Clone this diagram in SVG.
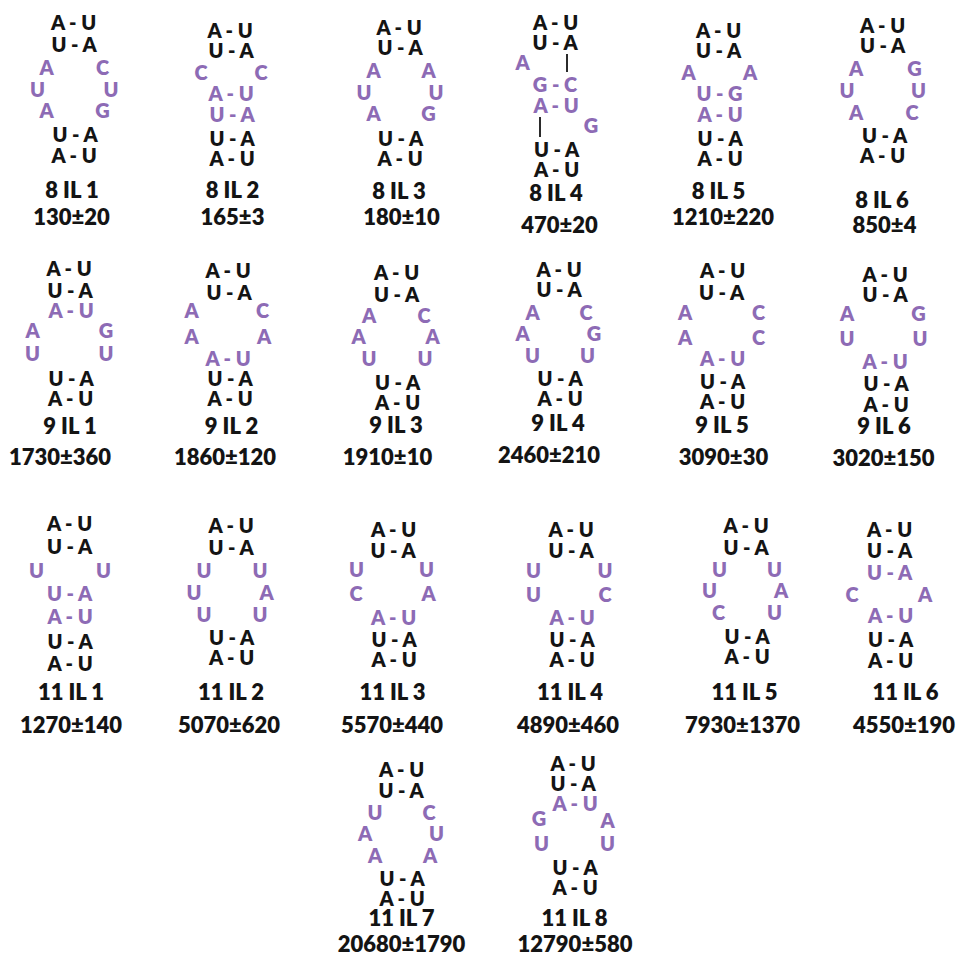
<svg xmlns="http://www.w3.org/2000/svg" width="956" height="957" viewBox="0 0 956 957">
<style>
text{font-family:Lato,"Open Sans","Liberation Sans",sans-serif;font-weight:800;text-anchor:middle}
.k{font-size:20px;fill:#141414}
.p{font-size:20px;fill:#8d6bb5}
.l{font-size:22px;fill:#141414}
.bond{stroke:#141414;stroke-width:1.8}
</style>
<rect width="956" height="957" fill="#ffffff"/>

<g id="n8IL1">
<text class="k" x="73.5" y="30">A - U</text>
<text class="k" x="74" y="51.5">U - A</text>
<text class="p" x="46.5" y="75">A</text><text class="p" x="102.5" y="75">C</text>
<text class="p" x="37.5" y="97">U</text><text class="p" x="111" y="97">U</text>
<text class="p" x="46.5" y="118">A</text><text class="p" x="102.5" y="118">G</text>
<text class="k" x="75" y="142">U - A</text>
<text class="k" x="74" y="163">A - U</text>
<text class="l" x="72" y="198">8 IL 1</text>
<text class="l" x="71.5" y="225">130±20</text>
</g>

<g id="n8IL2">
<text class="k" x="230" y="38">A - U</text>
<text class="k" x="231" y="58">U - A</text>
<text class="p" x="201" y="80">C</text><text class="p" x="261" y="80">C</text>
<text class="p" x="231" y="101">A - U</text>
<text class="p" x="232" y="122">U - A</text>
<text class="k" x="232" y="146">U - A</text>
<text class="k" x="232" y="166">A - U</text>
<text class="l" x="232.5" y="198">8 IL 2</text>
<text class="l" x="232.5" y="225">165±3</text>
</g>

<g id="n8IL3">
<text class="k" x="399" y="35">A - U</text>
<text class="k" x="400" y="55">U - A</text>
<text class="p" x="373.5" y="78">A</text><text class="p" x="428.5" y="78">A</text>
<text class="p" x="364" y="100">U</text><text class="p" x="436" y="100">U</text>
<text class="p" x="373.5" y="121">A</text><text class="p" x="428.5" y="121">G</text>
<text class="k" x="400.5" y="146">U - A</text>
<text class="k" x="400" y="166">A - U</text>
<text class="l" x="399" y="199">8 IL 3</text>
<text class="l" x="401.5" y="225">180±10</text>
</g>

<g id="n8IL4">
<text class="k" x="555.5" y="30">A - U</text>
<text class="k" x="555" y="50">U - A</text>
<line class="bond" x1="567" y1="54" x2="567" y2="72"/>
<text class="p" x="522.5" y="70">A</text>
<text class="p" x="555" y="92">G - C</text>
<text class="p" x="556" y="113">A - U</text>
<line class="bond" x1="540" y1="117" x2="540" y2="137"/>
<text class="p" x="591" y="133">G</text>
<text class="k" x="556.5" y="157">U - A</text>
<text class="k" x="556.5" y="177">A - U</text>
<text class="l" x="556" y="201">8 IL 4</text>
<text class="l" x="559.5" y="233">470±20</text>
</g>

<g id="n8IL5">
<text class="k" x="718.5" y="38">A - U</text>
<text class="k" x="718.5" y="58">U - A</text>
<text class="p" x="688.5" y="80">A</text><text class="p" x="750" y="80">A</text>
<text class="p" x="719.5" y="101">U - G</text>
<text class="p" x="720" y="122">A - U</text>
<text class="k" x="720" y="146">U - A</text>
<text class="k" x="720" y="166">A - U</text>
<text class="l" x="718.5" y="199">8 IL 5</text>
<text class="l" x="723" y="225">1210±220</text>
</g>

<g id="n8IL6">
<text class="k" x="882.5" y="33">A - U</text>
<text class="k" x="882.5" y="53">U - A</text>
<text class="p" x="856" y="76">A</text><text class="p" x="914.5" y="76">G</text>
<text class="p" x="847" y="98">U</text><text class="p" x="918.5" y="98">U</text>
<text class="p" x="856" y="120">A</text><text class="p" x="912" y="120">C</text>
<text class="k" x="884.5" y="143">U - A</text>
<text class="k" x="882.5" y="163">A - U</text>
<text class="l" x="882" y="208">8 IL 6</text>
<text class="l" x="884.5" y="233">850±4</text>
</g>

<g id="n9IL1">
<text class="k" x="69" y="276">A - U</text>
<text class="k" x="70" y="298">U - A</text>
<text class="p" x="71" y="318">A - U</text>
<text class="p" x="32.5" y="338">A</text><text class="p" x="106" y="338">G</text>
<text class="p" x="32.5" y="361">U</text><text class="p" x="106" y="361">U</text>
<text class="k" x="71" y="386">U - A</text>
<text class="k" x="70.5" y="406">A - U</text>
<text class="l" x="70" y="434">9 IL 1</text>
<text class="l" x="60" y="465">1730±360</text>
</g>

<g id="n9IL2">
<text class="k" x="228" y="278">A - U</text>
<text class="k" x="229" y="300">U - A</text>
<text class="p" x="191.5" y="318">A</text><text class="p" x="262.5" y="318">C</text>
<text class="p" x="191.5" y="344">A</text><text class="p" x="264" y="344">A</text>
<text class="p" x="228" y="366">A - U</text>
<text class="k" x="230" y="386">U - A</text>
<text class="k" x="230" y="406">A - U</text>
<text class="l" x="231.5" y="434">9 IL 2</text>
<text class="l" x="225" y="465">1860±120</text>
</g>

<g id="n9IL3">
<text class="k" x="396.5" y="280">A - U</text>
<text class="k" x="396.5" y="302">U - A</text>
<text class="p" x="369" y="323">A</text><text class="p" x="424" y="323">C</text>
<text class="p" x="358.5" y="344">A</text><text class="p" x="432.5" y="344">A</text>
<text class="p" x="369" y="366">U</text><text class="p" x="425" y="366">U</text>
<text class="k" x="397.5" y="390">U - A</text>
<text class="k" x="397.5" y="410">A - U</text>
<text class="l" x="396" y="433">9 IL 3</text>
<text class="l" x="387.5" y="465">1910±10</text>
</g>

<g id="n9IL4">
<text class="k" x="559" y="277">A - U</text>
<text class="k" x="559" y="297">U - A</text>
<text class="p" x="532.5" y="320">A</text><text class="p" x="586" y="320">C</text>
<text class="p" x="522.5" y="341">A</text><text class="p" x="594" y="341">G</text>
<text class="p" x="532.5" y="363">U</text><text class="p" x="587.5" y="363">U</text>
<text class="k" x="560" y="386">U - A</text>
<text class="k" x="560" y="406">A - U</text>
<text class="l" x="558" y="431">9 IL 4</text>
<text class="l" x="549" y="463">2460±210</text>
</g>

<g id="n9IL5">
<text class="k" x="722.5" y="278">A - U</text>
<text class="k" x="721.5" y="300">U - A</text>
<text class="p" x="685" y="320">A</text><text class="p" x="758.5" y="320">C</text>
<text class="p" x="685" y="345">A</text><text class="p" x="758.5" y="345">C</text>
<text class="p" x="722.5" y="366">A - U</text>
<text class="k" x="722.5" y="389">U - A</text>
<text class="k" x="722.5" y="409">A - U</text>
<text class="l" x="722" y="433">9 IL 5</text>
<text class="l" x="723.5" y="465">3090±30</text>
</g>

<g id="n9IL6">
<text class="k" x="885" y="282">A - U</text>
<text class="k" x="885" y="302">U - A</text>
<text class="p" x="847" y="321">A</text><text class="p" x="918.5" y="321">G</text>
<text class="p" x="847" y="346">U</text><text class="p" x="920" y="346">U</text>
<text class="p" x="885" y="369">A - U</text>
<text class="k" x="886" y="391">U - A</text>
<text class="k" x="886" y="412">A - U</text>
<text class="l" x="884" y="434">9 IL 6</text>
<text class="l" x="883.5" y="466">3020±150</text>
</g>

<g id="n11IL1">
<text class="k" x="69.5" y="531">A - U</text>
<text class="k" x="69.5" y="554">U - A</text>
<text class="p" x="36.5" y="578">U</text><text class="p" x="103.5" y="578">U</text>
<text class="p" x="69.5" y="601">U - A</text>
<text class="p" x="70" y="624">A - U</text>
<text class="k" x="70" y="649">U - A</text>
<text class="k" x="70" y="671">A - U</text>
<text class="l" x="71" y="700">11 IL 1</text>
<text class="l" x="71" y="733">1270±140</text>
</g>

<g id="n11IL2">
<text class="k" x="231" y="533">A - U</text>
<text class="k" x="231" y="555">U - A</text>
<text class="p" x="204" y="578">U</text><text class="p" x="260" y="578">U</text>
<text class="p" x="194" y="600">U</text><text class="p" x="266.5" y="600">A</text>
<text class="p" x="204" y="622">U</text><text class="p" x="260" y="622">U</text>
<text class="k" x="231.5" y="645">U - A</text>
<text class="k" x="231.5" y="665">A - U</text>
<text class="l" x="231" y="700">11 IL 2</text>
<text class="l" x="229" y="733">5070±620</text>
</g>

<g id="n11IL3">
<text class="k" x="393.5" y="537">A - U</text>
<text class="k" x="393" y="558">U - A</text>
<text class="p" x="356.5" y="577">U</text><text class="p" x="426.5" y="577">U</text>
<text class="p" x="356" y="601">C</text><text class="p" x="428.5" y="601">A</text>
<text class="p" x="393.5" y="625">A - U</text>
<text class="k" x="394" y="647">U - A</text>
<text class="k" x="394" y="667">A - U</text>
<text class="l" x="392.5" y="700">11 IL 3</text>
<text class="l" x="392" y="733">5570±440</text>
</g>

<g id="n11IL4">
<text class="k" x="571" y="537">A - U</text>
<text class="k" x="571" y="558">U - A</text>
<text class="p" x="533.5" y="578">U</text><text class="p" x="605" y="578">U</text>
<text class="p" x="533.5" y="602">U</text><text class="p" x="605" y="602">C</text>
<text class="p" x="572" y="625">A - U</text>
<text class="k" x="572" y="647">U - A</text>
<text class="k" x="572" y="667">A - U</text>
<text class="l" x="570" y="700">11 IL 4</text>
<text class="l" x="568" y="733">4890±460</text>
</g>

<g id="n11IL5">
<text class="k" x="746" y="533">A - U</text>
<text class="k" x="746" y="555">U - A</text>
<text class="p" x="719.5" y="577">U</text><text class="p" x="774.5" y="577">U</text>
<text class="p" x="709.5" y="598">U</text><text class="p" x="781" y="598">A</text>
<text class="p" x="718.5" y="620">C</text><text class="p" x="774.5" y="620">U</text>
<text class="k" x="747" y="644">U - A</text>
<text class="k" x="747" y="664">A - U</text>
<text class="l" x="744.5" y="700">11 IL 5</text>
<text class="l" x="742.5" y="733">7930±1370</text>
</g>

<g id="n11IL6">
<text class="k" x="889.5" y="537">A - U</text>
<text class="k" x="889.5" y="558">U - A</text>
<text class="p" x="889.5" y="580">U - A</text>
<text class="p" x="852" y="602">C</text><text class="p" x="925" y="602">A</text>
<text class="p" x="890.5" y="623">A - U</text>
<text class="k" x="890.5" y="647">U - A</text>
<text class="k" x="890.5" y="668">A - U</text>
<text class="l" x="905.5" y="700">11 IL 6</text>
<text class="l" x="904" y="733">4550±190</text>
</g>

<g id="n11IL7">
<text class="k" x="401.5" y="777">A - U</text>
<text class="k" x="401" y="798">U - A</text>
<text class="p" x="375" y="820">U</text><text class="p" x="429" y="820">C</text>
<text class="p" x="365" y="841">A</text><text class="p" x="436.5" y="841">U</text>
<text class="p" x="375" y="863">A</text><text class="p" x="430" y="863">A</text>
<text class="k" x="402" y="886">U - A</text>
<text class="k" x="402" y="906">A - U</text>
<text class="l" x="401.5" y="926">11 IL 7</text>
<text class="l" x="401.5" y="952">20680±1790</text>
</g>

<g id="n11IL8">
<text class="k" x="573" y="771">A - U</text>
<text class="k" x="573" y="791">U - A</text>
<text class="p" x="575" y="811">A - U</text>
<text class="p" x="539" y="826">G</text><text class="p" x="607.5" y="828">A</text>
<text class="p" x="541.5" y="851">U</text><text class="p" x="607.5" y="851">U</text>
<text class="k" x="575" y="875">U - A</text>
<text class="k" x="575" y="895">A - U</text>
<text class="l" x="574.5" y="926">11 IL 8</text>
<text class="l" x="575" y="952">12790±580</text>
</g>

<g id="connectors"></g>
</svg>
